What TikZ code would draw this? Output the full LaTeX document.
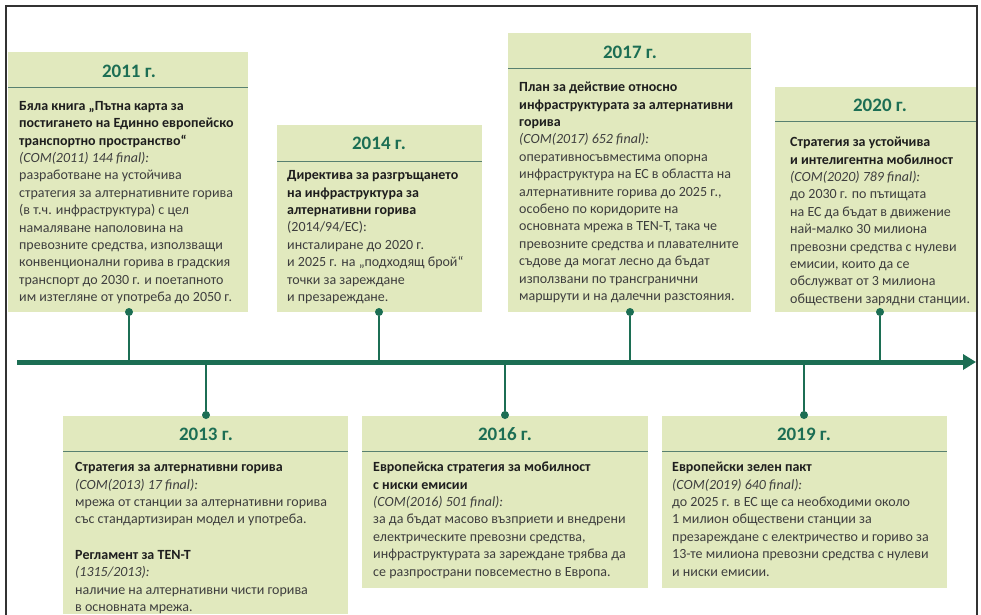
\documentclass[tikz,border=0pt]{standalone}
\usepackage{fontspec}
\setmainfont{Carlito}
\usepackage{xcolor}
\usetikzlibrary{arrows.meta,positioning}

\definecolor{boxgreen}{RGB}{225,233,190}
\definecolor{darkgreen}{RGB}{28,110,84}
\definecolor{sepgreen}{RGB}{88,128,112}
\definecolor{textgray}{RGB}{62,62,62}
\definecolor{headgray}{RGB}{30,30,30}
\definecolor{framegray}{RGB}{50,50,50}

\newcommand{\hdline}[1]{{\bfseries\color{headgray}#1}}
\newcommand{\comref}[1]{{\itshape #1}}

\tikzset{
    yearbox/.style={fill=boxgreen, draw=none},
    yeartitle/.style={font=\fontsize{19}{22}\selectfont\bfseries, text=darkgreen, inner sep=0pt},
    yeartext/.style={anchor=north west, align=left, inner sep=0pt,
        font=\fontsize{14}{17.4}\selectfont, text=textgray},
    sepline/.style={draw=sepgreen, line width=1pt},
    pindot/.style={circle, fill=darkgreen, inner sep=0pt, minimum size=8pt},
    pinline/.style={draw=darkgreen, line width=1.4pt},
    timeaxis/.style={draw=darkgreen, line width=5pt, -{Triangle[length=13pt,width=15pt]}},
    outerframe/.style={draw=framegray, line width=1.5pt},
}

\begin{document}
\begin{tikzpicture}[x=1pt, y=-1pt]
    \useasboundingbox (0,0) rectangle (981,614);
    \fill[white] (0,0) rectangle (981,614);
    % outer frame
    \draw[outerframe] (6,616) -- (6,6) -- (977,6) -- (977,616);

    % boxes above the time axis
    \fill[yearbox] (8,52) rectangle (248,312);
    \node[yeartitle] (t2011) at (129,71) {2011 г.};
    \draw[sepline] (8,87) -- (248,87);
    \node[yeartext] (b2011) at (19,100) {\rule{0pt}{10pt}%
        \hdline{Бяла книга „Пътна карта за}\\
        \hdline{постигането на Единно европейско}\\
        \hdline{транспортно пространство“}\\
        \comref{(COM(2011) 144 final):}\\
        разработване на устойчива\\
        стратегия за алтернативните горива\\
        (в т.ч. инфраструктура) с цел\\
        намаляване наполовина на\\
        превозните средства, използващи\\
        конвенционални горива в градския\\
        транспорт до 2030 г. и поетапното\\
        им изтегляне от употреба до 2050 г.};

    \fill[yearbox] (277,125) rectangle (482,312);
    \node[yeartitle] (t2014) at (379,143) {2014 г.};
    \draw[sepline] (277,161) -- (482,161);
    \node[yeartext] (b2014) at (287,169.5) {\rule{0pt}{10pt}%
        \hdline{Директива за разгръщането}\\
        \hdline{на инфраструктура за}\\
        \hdline{алтернативни горива}\\
        (2014/94/ЕС):\\
        инсталиране до 2020 г.\\
        и 2025 г. на „подходящ брой“\\
        точки за зареждане\\
        и презареждане.};

    \fill[yearbox] (508,33) rectangle (751,312);
    \node[yeartitle] (t2017) at (630,52) {2017 г.};
    \draw[sepline] (508,68) -- (751,68);
    \node[yeartext] (b2017) at (519,81.5) {\rule{0pt}{10pt}%
        \hdline{План за действие относно}\\
        \hdline{инфраструктурата за алтернативни}\\
        \hdline{горива}\\
        \comref{(COM(2017) 652 final):}\\
        оперативносъвместима опорна\\
        инфраструктура на ЕС в областта на\\
        алтернативните горива до 2025 г.,\\
        особено по коридорите на\\
        основната мрежа в TEN-T, така че\\
        превозните средства и плавателните\\
        съдове да могат лесно да бъдат\\
        използвани по трансгранични\\
        маршрути и на далечни разстояния.};

    \fill[yearbox] (775,87) rectangle (976,312);
    \node[yeartitle] (t2020) at (880,105) {2020 г.};
    \draw[sepline] (775,121) -- (976,121);
    \node[yeartext] (b2020) at (790,136.5) {\rule{0pt}{10pt}%
        \hdline{Стратегия за устойчива}\\
        \hdline{и интелигентна мобилност}\\
        \comref{(COM(2020) 789 final):}\\
        до 2030 г. по пътищата\\
        на ЕС да бъдат в движение\\
        най-малко 30 милиона\\
        превозни средства с нулеви\\
        емисии, които да се\\
        обслужват от 3 милиона\\
        обществени зарядни станции.};

    % boxes below the time axis
    \fill[yearbox] (63,416) rectangle (348,614);
    \node[yeartitle] (t2013) at (206,434) {2013 г.};
    \draw[sepline] (63,451) -- (348,451);
    \node[yeartext] (b2013) at (75,461.5) {\rule{0pt}{10pt}%
        \hdline{Стратегия за алтернативни горива}\\
        \comref{(COM(2013) 17 final):}\\
        мрежа от станции за алтернативни горива\\
        със стандартизиран модел и употреба.\\[18pt]
        \hdline{Регламент за TEN-T}\\
        \comref{(1315/2013):}\\
        наличие на алтернативни чисти горива\\
        в основната мрежа.};

    \fill[yearbox] (362,416) rectangle (648,588);
    \node[yeartitle] (t2016) at (505,434) {2016 г.};
    \draw[sepline] (362,451) -- (648,451);
    \node[yeartext] (b2016) at (373,461.5) {\rule{0pt}{10pt}%
        \hdline{Европейска стратегия за мобилност}\\
        \hdline{с ниски емисии}\\
        \comref{(COM(2016) 501 final):}\\
        за да бъдат масово възприети и внедрени\\
        електрическите превозни средства,\\
        инфраструктурата за зареждане трябва да\\
        се разпространи повсеместно в Европа.};

    \fill[yearbox] (662,416) rectangle (947,588);
    \node[yeartitle] (t2019) at (804,434) {2019 г.};
    \draw[sepline] (662,451) -- (947,451);
    \node[yeartext] (b2019) at (672,461.5) {\rule{0pt}{10pt}%
        \hdline{Европейски зелен пакт}\\
        \comref{(COM(2019) 640 final):}\\
        до 2025 г. в ЕС ще са необходими около\\
        1 милион обществени станции за\\
        презареждане с електричество и гориво за\\
        13-те милиона превозни средства с нулеви\\
        и ниски емисии.};

    % time axis
    \coordinate (axisstart) at (17,362);
    \coordinate (axisend) at (976,362);
    \draw[timeaxis] (axisstart) -- (axisend);

    % pins from the boxes to the axis
    \foreach \yr/\px in {2011/129, 2014/379, 2017/630, 2020/880} {
        \node[pindot] (p\yr) at (\px,312) {};
        \coordinate (a\yr) at (\px,362);
        \draw[pinline] (p\yr) -- (a\yr);
    }
    \foreach \yr/\px in {2013/206, 2016/505, 2019/804} {
        \node[pindot] (p\yr) at (\px,415) {};
        \coordinate (a\yr) at (\px,362);
        \draw[pinline] (p\yr) -- (a\yr);
    }
\end{tikzpicture}
\end{document}
